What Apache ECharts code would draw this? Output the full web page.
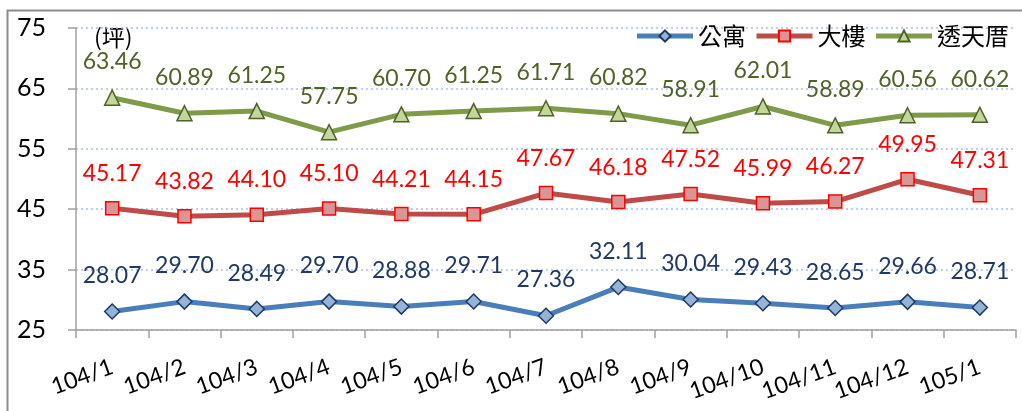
<!DOCTYPE html>
<html><head><meta charset="utf-8">
<script src="https://cdn.jsdelivr.net/npm/echarts@6/dist/echarts.min.js"></script>
<style>html,body{margin:0;padding:0;background:#fff}#c{width:1022px;height:411px}</style>
</head><body><div id="c"></div>
<script>
const categories = ['104/1','104/2','104/3','104/4','104/5','104/6','104/7','104/8','104/9','104/10','104/11','104/12','105/1'];
const apartment = [28.07, 29.70, 28.49, 29.70, 28.88, 29.71, 27.36, 32.11, 30.04, 29.43, 28.65, 29.66, 28.71];
const building = [45.17, 43.82, 44.10, 45.10, 44.21, 44.15, 47.67, 46.18, 47.52, 45.99, 46.27, 49.95, 47.31];
const townhouse = [63.46, 60.89, 61.25, 57.75, 60.70, 61.25, 61.71, 60.82, 58.91, 62.01, 58.89, 60.56, 60.62];
const seriesNames = ['公寓','大樓','透天厝'];
const yTicks = [25, 35, 45, 55, 65, 75];

const latin = 'Lato, "Noto Sans CJK TC", sans-serif';
const cjk = '"Noto Sans CJK TC", sans-serif';
function mk(name, data, lineColor, symbol, fill, border, labelColor, size) {
  return {
    name, type: 'line', data,
    symbol, symbolSize: size,
    lineStyle: { color: lineColor, width: 5 },
    itemStyle: { color: fill, borderColor: border, borderWidth: 1.5 },
    label: { show: true, position: 'top', distance: 16, color: labelColor, fontSize: 23, fontFamily: latin,
      formatter: p => p.value.toFixed(2) },
    emphasis: { disabled: true },
    animation: false
  };
}
const chart = echarts.init(document.getElementById('c'));
chart.setOption({
  animation: false,
  grid: { left: 76, right: 6, top: 28, bottom: 81 },
  legend: {
    right: 8, top: 19, itemWidth: 56, itemHeight: 14, itemGap: 8,
    lineStyle: { width: 5 },
    textStyle: { fontSize: 24, fontFamily: cjk, color: '#000' },
    data: seriesNames
  },
  graphic: [
    { type: 'rect', shape: { x: 7.5, y: 10.5, width: 1100, height: 500 }, style: { fill: 'none', stroke: '#8c8c8c', lineWidth: 2 }, silent: true },
    { type: 'text', left: 94, top: 26, style: { text: '(坪)', fontSize: 23, fontFamily: cjk, fill: '#000' } }
  ],
  xAxis: {
    type: 'category', data: categories, boundaryGap: true,
    axisLine: { lineStyle: { color: '#a0a0a0', width: 1.5 } },
    axisTick: { show: true, length: 8, lineStyle: { color: '#a0a0a0', width: 1.5 } },
    axisLabel: { rotate: 20, fontSize: 23, fontFamily: latin, color: '#000', margin: 36, interval: 0 }
  },
  yAxis: {
    type: 'value', min: yTicks[0], max: yTicks[yTicks.length - 1], interval: 10,
    axisLine: { show: true, lineStyle: { color: '#a0a0a0', width: 1.5 } },
    axisTick: { show: true, length: 8, lineStyle: { color: '#a0a0a0', width: 1.5 } },
    axisLabel: { fontSize: 25, fontFamily: latin, color: '#000', margin: 30 },
    splitLine: { show: true, lineStyle: { color: '#a9c0e6', type: [2, 3], width: 1.5 } }
  },
  series: [
    mk(seriesNames[0], apartment, '#4a7ebb', 'diamond', '#95b3d7', '#1f3864', '#1f3864', 15),
    mk(seriesNames[1], building, '#be4b48', 'rect', '#d99694', '#ff0000', '#ff0000', 13),
    mk(seriesNames[2], townhouse, '#7f9a48', 'triangle', '#c3d69b', '#4f6228', '#4f6228', 15)
  ]
});
</script></body></html>
